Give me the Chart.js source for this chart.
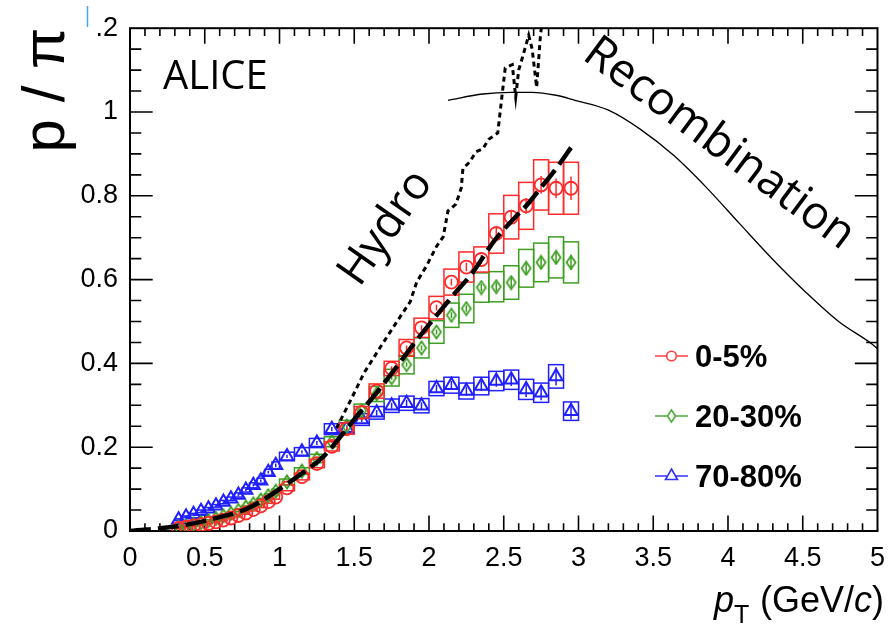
<!DOCTYPE html>
<html>
<head>
<meta charset="utf-8">
<script src="https://cdn.jsdelivr.net/npm/chart.js@4.4.1/dist/chart.umd.min.js"></script>
<style>
  html, body { margin: 0; padding: 0; background: #fff; }
  #wrap { width: 896px; height: 633px; }
</style>
</head>
<body>
<div id="wrap"><canvas id="ratioChart" width="896" height="633"></canvas></div>
<script>
// pT bin centres and half widths (GeV/c)
const pt = [0.325, 0.375, 0.425, 0.475, 0.525, 0.575, 0.625, 0.675, 0.725, 0.775, 0.825, 0.875, 0.925, 0.975,
            1.05, 1.15, 1.25, 1.35, 1.45, 1.55, 1.65, 1.75, 1.85, 1.95, 2.05, 2.15, 2.25, 2.35, 2.45, 2.55, 2.65, 2.75, 2.85, 2.95];
const ptHalf = [0.025, 0.025, 0.025, 0.025, 0.025, 0.025, 0.025, 0.025, 0.025, 0.025, 0.025, 0.025, 0.025, 0.025,
                0.05, 0.05, 0.05, 0.05, 0.05, 0.05, 0.05, 0.05, 0.05, 0.05, 0.05, 0.05, 0.05, 0.05, 0.05, 0.05, 0.05, 0.05, 0.05, 0.05];

// p/pi ratio, 0-5%
const central = [0.006, 0.009, 0.012, 0.015, 0.018, 0.022, 0.026, 0.031, 0.037, 0.043, 0.051, 0.060, 0.070, 0.081,
                 0.103, 0.130, 0.161, 0.202, 0.244, 0.283, 0.334, 0.388, 0.437, 0.485, 0.533, 0.594, 0.630, 0.648, 0.710, 0.749, 0.776, 0.826, 0.818, 0.818];
const centralSys = [0.001, 0.001, 0.001, 0.001, 0.001, 0.002, 0.002, 0.002, 0.003, 0.003, 0.003, 0.004, 0.004, 0.005,
                    0.007, 0.008, 0.010, 0.011, 0.013, 0.014, 0.017, 0.017, 0.020, 0.023, 0.027, 0.031, 0.036, 0.030, 0.047, 0.052, 0.056, 0.060, 0.062, 0.062];
const centralStat = [0.001, 0.001, 0.001, 0.001, 0.001, 0.001, 0.001, 0.001, 0.001, 0.001, 0.002, 0.002, 0.002, 0.002,
                     0.002, 0.002, 0.003, 0.003, 0.004, 0.004, 0.005, 0.005, 0.006, 0.006, 0.007, 0.008, 0.010, 0.011, 0.013, 0.016, 0.019, 0.021, 0.023, 0.028];

// 20-30%
const semi = [0.009, 0.012, 0.016, 0.020, 0.025, 0.030, 0.036, 0.042, 0.049, 0.057, 0.065, 0.074, 0.084, 0.095,
              0.117, 0.143, 0.173, 0.213, 0.250, 0.287, 0.327, 0.366, 0.397, 0.437, 0.475, 0.515, 0.531, 0.581, 0.583, 0.593, 0.627, 0.641, 0.653, 0.641];
const semiSys = [0.001, 0.001, 0.001, 0.001, 0.002, 0.002, 0.002, 0.003, 0.003, 0.003, 0.004, 0.004, 0.005, 0.005,
                 0.007, 0.008, 0.010, 0.012, 0.014, 0.016, 0.018, 0.020, 0.022, 0.024, 0.027, 0.029, 0.034, 0.035, 0.036, 0.040, 0.045, 0.046, 0.049, 0.049];
const semiStat = [0.001, 0.001, 0.001, 0.001, 0.001, 0.001, 0.001, 0.001, 0.001, 0.001, 0.001, 0.002, 0.002, 0.002,
                  0.002, 0.002, 0.002, 0.003, 0.003, 0.004, 0.004, 0.005, 0.005, 0.006, 0.006, 0.007, 0.008, 0.009, 0.010, 0.012, 0.014, 0.015, 0.016, 0.018];

// 70-80%
const periph = [0.027, 0.034, 0.040, 0.047, 0.053, 0.060, 0.069, 0.077, 0.086, 0.098, 0.109, 0.120, 0.140, 0.157,
                0.178, 0.189, 0.210, 0.243, 0.245, 0.266, 0.282, 0.299, 0.305, 0.299, 0.340, 0.348, 0.334, 0.346, 0.358, 0.361, 0.338, 0.330, 0.369, 0.286];
const periphSys = [0.002, 0.002, 0.002, 0.003, 0.003, 0.003, 0.004, 0.004, 0.005, 0.005, 0.006, 0.006, 0.007, 0.008,
                   0.010, 0.010, 0.011, 0.013, 0.013, 0.014, 0.015, 0.016, 0.017, 0.017, 0.017, 0.019, 0.019, 0.021, 0.023, 0.023, 0.024, 0.023, 0.028, 0.022];
const periphStat = [0.002, 0.002, 0.002, 0.002, 0.002, 0.002, 0.002, 0.002, 0.003, 0.003, 0.003, 0.003, 0.003, 0.004,
                    0.004, 0.004, 0.005, 0.005, 0.006, 0.006, 0.007, 0.007, 0.008, 0.008, 0.009, 0.010, 0.011, 0.012, 0.014, 0.015, 0.018, 0.018, 0.022, 0.020];

const seriesLabels = ['0-5%', '20-30%', '70-80%'];

// model curves
const hydroX = [1.38, 1.48, 1.565, 1.675, 1.786, 1.874, 1.918, 1.984, 2.05, 2.095, 2.127, 2.18, 2.216, 2.227, 2.27, 2.315,
                2.36, 2.40, 2.46, 2.49, 2.51, 2.557, 2.58, 2.60, 2.625, 2.667, 2.69, 2.72, 2.745, 2.77];
const hydroY = [0.245, 0.315, 0.377, 0.439, 0.500, 0.547, 0.594, 0.633, 0.679, 0.702, 0.764, 0.780, 0.819, 0.865, 0.880, 0.905,
                0.912, 0.935, 0.950, 1.044, 1.105, 1.113, 1.036, 1.100, 1.130, 1.183, 1.150, 1.059, 1.180, 1.260];

const recoX = [2.127, 2.36, 2.55, 2.69, 2.85, 2.976, 3.197, 3.417, 3.638, 3.858, 4.079, 4.30, 4.52, 4.74, 4.96, 5.0];
const recoY = [1.028, 1.043, 1.047, 1.047, 1.040, 1.028, 1.005, 0.958, 0.896, 0.819, 0.733, 0.648, 0.570, 0.500, 0.447, 0.435];

const fitX = [0, 0.33, 0.6, 0.8, 1.08, 1.3, 1.43, 1.52, 1.65, 1.78, 1.91, 2.07, 2.16, 2.29, 2.44, 2.58, 2.66, 2.75, 2.85, 2.95];
const fitY = [0, 0.012, 0.033, 0.056, 0.120, 0.180, 0.235, 0.275, 0.330, 0.390, 0.452, 0.523, 0.562, 0.616, 0.694, 0.750, 0.780, 0.820, 0.865, 0.915];

const xTickValues = [0, 0.5, 1, 1.5, 2, 2.5, 3, 3.5, 4, 4.5, 5];
const xTickLabels = ['0', '0.5', '1', '1.5', '2', '2.5', '3', '3.5', '4', '4.5', '5'];
const yTickValues = [0, 0.2, 0.4, 0.6, 0.8, 1, 1.2];
const yTickLabels = ['0', '0.2', '0.4', '0.6', '0.8', '1', '.2'];

const RED = '#ff2b2b', GREEN = '#3d9e22', BLUE = '#1f1fff';
const TICK_FONT = '"Liberation Sans", Arial, sans-serif';
const SLIDE_FONT = '"Open Sans", "DejaVu Sans", sans-serif';

function pts(xv, yv) { return xv.map((v, i) => ({ x: v, y: yv[i] })); }

// narrow open diamond used for the 20-30% points
function diamond(color, w, h, lw) {
    const c = document.createElement('canvas');
    c.width = w + 2 * lw; c.height = h + 2 * lw;
    const g = c.getContext('2d');
    g.strokeStyle = color; g.lineWidth = lw;
    const cx = c.width / 2, cy = c.height / 2;
    g.beginPath();
    g.moveTo(cx, cy - h / 2); g.lineTo(cx + w / 2, cy); g.lineTo(cx, cy + h / 2); g.lineTo(cx - w / 2, cy);
    g.closePath(); g.stroke();
    return c;
}

const groups = [
    { vals: central, sys: centralSys, stat: centralStat, color: RED },
    { vals: semi, sys: semiSys, stat: semiStat, color: GREEN },
    { vals: periph, sys: periphSys, stat: periphStat, color: BLUE }
];

const decor = {
    id: 'decor',
    beforeDatasetsDraw(chart) {
        const { ctx, chartArea: a, scales: { x, y } } = chart;
        ctx.save();
        // frame with inward ticks on all four sides
        ctx.strokeStyle = '#000';
        ctx.lineWidth = 2;
        ctx.strokeRect(a.left, a.top, a.right - a.left, a.bottom - a.top);
        ctx.lineWidth = 1.6;
        ctx.beginPath();
        for (let k = 1; k < 50; k++) {
            const px = x.getPixelForValue(k / 10);
            const len = k % 5 === 0 ? 15.5 : 7.7;
            ctx.moveTo(px, a.bottom); ctx.lineTo(px, a.bottom - len);
            ctx.moveTo(px, a.top); ctx.lineTo(px, a.top + len);
        }
        for (let k = 1; k < 24; k++) {
            const py = y.getPixelForValue(k * 0.05);
            const len = k % 4 === 0 ? 22.7 : 11.3;
            ctx.moveTo(a.left, py); ctx.lineTo(a.left + len, py);
            ctx.moveTo(a.right, py); ctx.lineTo(a.right - len, py);
        }
        ctx.stroke();

        // systematic boxes and statistical bars
        ctx.beginPath();
        ctx.rect(a.left, a.top, a.right - a.left, a.bottom - a.top);
        ctx.clip();
        groups.slice().reverse().forEach(g => {
            ctx.strokeStyle = g.color;
            ctx.lineWidth = 1.5;
            pt.forEach((p, i) => {
                const x0 = x.getPixelForValue(p - ptHalf[i]), x1 = x.getPixelForValue(p + ptHalf[i]);
                const y0 = y.getPixelForValue(g.vals[i] + g.sys[i]), y1 = y.getPixelForValue(g.vals[i] - g.sys[i]);
                ctx.strokeRect(x0, y0, x1 - x0, y1 - y0);
                const xc = x.getPixelForValue(p);
                ctx.beginPath();
                ctx.moveTo(xc, y.getPixelForValue(g.vals[i] + g.stat[i]));
                ctx.lineTo(xc, y.getPixelForValue(g.vals[i] - g.stat[i]));
                ctx.stroke();
            });
        });
        ctx.restore();
    },
    afterDraw(chart) {
        const { ctx } = chart;
        ctx.save();
        ctx.fillStyle = '#000';

        // y title
        ctx.save();
        ctx.translate(64, 90);
        ctx.rotate(-Math.PI / 2);
        ctx.font = '60px ' + TICK_FONT;
        ctx.textAlign = 'center';
        ctx.textBaseline = 'alphabetic';
        ctx.fillText('p / \u03c0', 0, 0);
        ctx.restore();

        // x title: p_T (GeV/c), right aligned to the frame
        const base = 612;
        ctx.textBaseline = 'alphabetic';
        ctx.textAlign = 'left';
        const parts = [['(GeV/', '36px '], ['c', 'italic 36px '], [')', '36px ']];
        let w = 0;
        parts.forEach(p => { ctx.font = p[1] + TICK_FONT; w += ctx.measureText(p[0]).width; });
        let cx = 884 - w;
        parts.forEach(p => { ctx.font = p[1] + TICK_FONT; ctx.fillText(p[0], cx, base); cx += ctx.measureText(p[0]).width; });
        ctx.font = 'italic 36px ' + TICK_FONT;
        ctx.fillText('p', 884 - w - 46, base);
        ctx.font = '25px ' + TICK_FONT;
        ctx.fillText('T', 884 - w - 26, base + 11);

        // annotations
        ctx.font = '40px ' + SLIDE_FONT;
        ctx.fillText('ALICE', 163, 89);
        ctx.textAlign = 'center';
        ctx.textBaseline = 'middle';
        ctx.save();
        ctx.translate(386, 228);
        ctx.rotate(-55 * Math.PI / 180);
        ctx.font = '45px ' + SLIDE_FONT;
        ctx.fillText('Hydro', 0, 0);
        ctx.restore();
        ctx.save();
        ctx.translate(719, 144);
        ctx.rotate(36.5 * Math.PI / 180);
        ctx.font = '46px ' + SLIDE_FONT;
        ctx.fillText('Recombination', 0, 0);
        ctx.restore();

        // legend
        const legY = [356, 416, 476];
        const legCol = ['#ff4040', '#4cae3a', '#3030ff'];
        legY.forEach((ly, i) => {
            ctx.strokeStyle = legCol[i];
            ctx.lineWidth = 1.6;
            ctx.beginPath(); ctx.moveTo(655, ly); ctx.lineTo(688, ly); ctx.stroke();
            ctx.beginPath();
            if (i === 0) {
                ctx.arc(671.5, ly, 4.8, 0, 2 * Math.PI);
            } else if (i === 1) {
                ctx.moveTo(671.5, ly - 6); ctx.lineTo(675.5, ly); ctx.lineTo(671.5, ly + 6); ctx.lineTo(667.5, ly); ctx.closePath();
            } else {
                ctx.moveTo(671.5, ly - 7); ctx.lineTo(677.5, ly + 3.5); ctx.lineTo(665.5, ly + 3.5); ctx.closePath();
            }
            ctx.fillStyle = '#fff';
            ctx.fill();
            ctx.stroke();
            ctx.fillStyle = '#000';
            ctx.font = 'bold 31px ' + TICK_FONT;
            ctx.textAlign = 'left';
            ctx.textBaseline = 'alphabetic';
            ctx.fillText(seriesLabels[i], 695, ly + 11);
        });

        // text cursor left in the corner
        ctx.strokeStyle = '#47a6e6';
        ctx.lineWidth = 1.5;
        ctx.beginPath(); ctx.moveTo(87.5, 6); ctx.lineTo(87.5, 27); ctx.stroke();
        ctx.restore();
    }
};

new Chart(document.getElementById('ratioChart'), {
    type: 'scatter',
    data: {
        datasets: [
            {
                label: 'fit', data: pts(fitX, fitY), showLine: true, borderColor: '#000', borderWidth: 4.5,
                borderDash: [21, 7], pointRadius: 0, tension: 0.35, cubicInterpolationMode: 'monotone', order: 0
            },
            {
                label: seriesLabels[0], data: pts(pt, central), pointStyle: 'circle', pointRadius: 6.5,
                borderColor: RED, backgroundColor: 'rgba(0,0,0,0)', pointBorderWidth: 1.8, order: 1
            },
            {
                label: seriesLabels[1], data: pts(pt, semi), pointStyle: diamond(GREEN, 9, 13, 1.8),
                borderColor: GREEN, backgroundColor: 'rgba(0,0,0,0)', pointRadius: 6, order: 2
            },
            {
                label: seriesLabels[2], data: pts(pt, periph), pointStyle: 'triangle', pointRadius: 7.5,
                borderColor: BLUE, backgroundColor: 'rgba(0,0,0,0)', pointBorderWidth: 2, order: 3
            },
            {
                label: 'Hydro', data: pts(hydroX, hydroY), showLine: true, borderColor: '#000', borderWidth: 3,
                borderDash: [5, 4], pointRadius: 0, tension: 0, order: 4
            },
            {
                label: 'Recombination', data: pts(recoX, recoY), showLine: true, borderColor: '#000', borderWidth: 1.3,
                pointRadius: 0, tension: 0.4, cubicInterpolationMode: 'monotone', order: 5
            }
        ]
    },
    options: {
        responsive: false,
        animation: false,
        devicePixelRatio: 1,
        events: [],
        layout: { padding: { top: 16, right: 10, left: 0, bottom: 0 } },
        plugins: { legend: { display: false }, tooltip: { enabled: false } },
        scales: {
            x: {
                type: 'linear', min: 0, max: 5,
                afterBuildTicks: s => { s.ticks = xTickValues.map(v => ({ value: v })); },
                afterFit: s => { s.height = 102; },
                ticks: {
                    callback: (v, i) => xTickLabels[i], color: '#000', padding: 11,
                    font: { family: TICK_FONT, size: 27 }, maxRotation: 0, autoSkip: false
                },
                grid: { display: false, drawTicks: false },
                border: { display: false }
            },
            y: {
                type: 'linear', min: 0, max: 1.2,
                afterBuildTicks: s => { s.ticks = yTickValues.map(v => ({ value: v })); },
                afterFit: s => { s.width = 130; },
                ticks: {
                    callback: (v, i) => yTickLabels[i], color: '#000', padding: 12,
                    font: { family: TICK_FONT, size: 27 }, autoSkip: false
                },
                grid: { display: false, drawTicks: false },
                border: { display: false }
            }
        }
    },
    plugins: [decor]
});
</script>
</body>
</html>
